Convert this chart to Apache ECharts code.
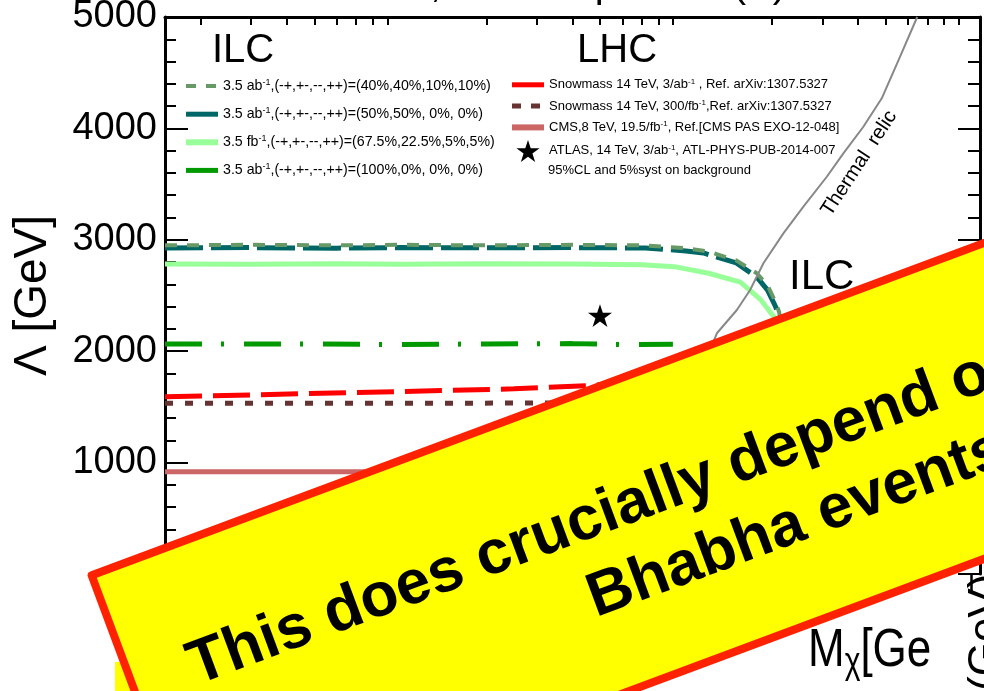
<!DOCTYPE html>
<html><head><meta charset="utf-8">
<script src="https://cdn.jsdelivr.net/npm/echarts@6/dist/echarts.min.js"></script>
<style>html,body{margin:0;padding:0;background:#fff}#c{width:984px;height:691px}</style>
</head><body><div id="c"></div>
<script>
const FONT = '"Liberation Sans", Arial, Helvetica, sans-serif';

// ---- axis ticks ----
const xMinorTicks = [2,3,4,5,6,7,8,9,20,30,40,50,60,70,80,90,200,300,400,500,600,700,800,900];
const xMajorTicks = [10,100,1000];
const xRange = [1.5, 1070];
const yRange = [0, 5000];
const yStep = 1000;

// ---- legend names ----
const ilcNames = [
  '3.5 ab^-1,(-+,+-,--,++)=(40%,40%,10%,10%)',
  '3.5 ab^-1,(-+,+-,--,++)=(50%,50%, 0%, 0%)',
  '3.5 fb^-1,(-+,+-,--,++)=(67.5%,22.5%,5%,5%)',
  '3.5 ab^-1,(-+,+-,--,++)=(100%,0%, 0%, 0%)'
];
const lhcNames = [
  'Snowmass 14 TeV, 3/ab^-1 , Ref. arXiv:1307.5327',
  'Snowmass 14 TeV, 300/fb^-1,Ref. arXiv:1307.5327',
  'CMS,8 TeV, 19.5/fb^-1, Ref.[CMS PAS EXO-12-048]',
  'ATLAS, 14 TeV, 3/ab^-1, ATL-PHYS-PUB-2014-007'
];
const noteText = '95%CL and 5%syst on background';

// ---- data: M_chi [GeV] and Lambda [GeV] ----
const m40 = [1.5, 3, 6, 10, 20, 40, 70, 100, 120, 150, 177, 193, 206, 212, 218];
const l40 = [2950, 2955, 2950, 2955, 2950, 2955, 2950, 2925, 2895, 2815, 2700, 2590, 2440, 2350, 2150];
const m50 = [1.5, 3, 6, 10, 20, 40, 72, 100, 115, 150, 177, 193, 206, 210, 216];
const l50 = [2926, 2930, 2925, 2930, 2928, 2930, 2926, 2900, 2882, 2792, 2666, 2549, 2399, 2343, 2150];
const m67 = [1.5, 3, 6, 10, 20, 40, 70, 91, 120, 155, 183, 203, 212];
const l67 = [2783, 2780, 2785, 2780, 2785, 2782, 2775, 2759, 2700, 2620, 2460, 2310, 2100];
const m100 = [1.5, 5, 10, 20, 40, 60, 90];
const l100 = [2065, 2065, 2060, 2065, 2068, 2060, 2062];
const mSnow3 = [1.5, 4.5, 10, 25, 46, 60];
const lSnow3 = [1590, 1618, 1638, 1662, 1692, 1710];
const mSnow300 = [1.5, 10, 30, 45];
const lSnow300 = [1532, 1532, 1535, 1535];
const mCMS = [1.5, 5, 10];
const lCMS = [918, 918, 918];
const mAtlas = [50];
const lAtlas = [2320];
const mRelic = [123.5, 128.3, 150.7, 167.7, 186.7, 219.3, 257.7, 311.2, 355.7, 417.9, 484.7, 561.8, 645];
const lRelic = [2056, 2161, 2370, 2549, 2789, 3058, 3297, 3566, 3776, 4015, 4270, 4644, 5000];

const pairs = (xs, ys) => xs.map((x, i) => [x, ys[i]]);
const STAR = 'path://M0,-10 L2.245,-3.09 L9.511,-3.09 L3.633,1.18 L5.878,8.09 L0,3.82 L-5.878,8.09 L-3.633,1.18 L-9.511,-3.09 L-2.245,-3.09 Z';

function lineSeries(name, xs, ys, color, width, dash, z) {
  return {
    type: 'line', name, data: pairs(xs, ys), symbol: 'none', showSymbol: false,
    lineStyle: { color, width, type: dash, cap: 'butt' }, itemStyle: { color },
    z, silent: true, animation: false
  };
}

const series = [
  lineSeries(lhcNames[2], mCMS, lCMS, '#cc6666', 5, 'solid', 2),
  lineSeries(lhcNames[1], mSnow300, lSnow300, '#663333', 5, [8, 12], 3),
  lineSeries(lhcNames[0], mSnow3, lSnow3, '#ff0000', 5, [37, 11], 4),
  lineSeries(ilcNames[3], m100, l100, '#009900', 5, [37, 19, 3, 20], 5),
  lineSeries(ilcNames[2], m67, l67, '#99ff99', 5, 'solid', 6),
  lineSeries(ilcNames[1], m50, l50, '#006666', 5, [38, 8], 7),
  lineSeries(ilcNames[0], m40, l40, '#669966', 4, [12, 10], 8),
  lineSeries('Thermal relic', mRelic, lRelic, '#888888', 2, 'solid', 9),
  {
    type: 'scatter', name: lhcNames[3], data: pairs(mAtlas, lAtlas), symbol: STAR,
    symbolSize: 24, symbolKeepAspect: true, itemStyle: { color: '#000', opacity: 1 }, z: 10, animation: false
  }
];

function richName(name) {
  return '{n|' + name.replace('^-1', '}{s|-1}{n|') + '}';
}

const legendText = (fs) => ({
  color: '#000', fontFamily: FONT, fontSize: fs,
  rich: {
    n: { fontFamily: FONT, fontSize: fs, color: '#000', lineHeight: fs + 2 },
    s: { fontFamily: FONT, fontSize: Math.round(fs * 0.65), color: '#000', verticalAlign: 'top', lineHeight: fs }
  }
});

const ilcLegendLines = [
  { type: [10, 10], width: 4 }, { type: 'solid', width: 5 }, { type: 'solid', width: 6 }, { type: 'solid', width: 5 }
];
const lhcLegendLines = [
  { type: 'solid', width: 5 }, { type: [9, 10], width: 5 }, { type: 'solid', width: 6 }, null
];

const option = {
  animation: false,
  backgroundColor: '#fff',
  grid: { left: 165, right: 4, top: 17, bottom: 117, containLabel: false, outerBoundsMode: 'none' },
  xAxis: [
    { type: 'log', min: xRange[0], max: xRange[1], position: 'bottom',
      axisLine: { show: false }, axisLabel: { show: false }, axisTick: { show: false }, splitLine: { show: false } },
    { type: 'log', min: xRange[0], max: xRange[1], position: 'top', gridIndex: 0,
      axisLine: { show: true, onZero: false, lineStyle: { color: '#000', width: 3 } },
      axisLabel: { show: false }, splitLine: { show: false },
      axisTick: { show: true, inside: true, length: 8, customValues: xMinorTicks, lineStyle: { color: '#000', width: 2 } } },
    { type: 'log', min: xRange[0], max: xRange[1], position: 'top', gridIndex: 0,
      axisLine: { show: false }, axisLabel: { show: false }, splitLine: { show: false },
      axisTick: { show: true, inside: true, length: 17, customValues: xMajorTicks, lineStyle: { color: '#000', width: 2.5 } } }
  ],
  yAxis: [
    { type: 'value', min: yRange[0], max: yRange[1], interval: yStep, position: 'left',
      name: 'Λ [GeV]', nameLocation: 'middle', nameRotate: 90, nameGap: 109,
      nameTextStyle: { fontFamily: FONT, fontSize: 46, color: '#000' },
      axisLine: { show: true, lineStyle: { color: '#000', width: 3 } },
      axisTick: { show: true, inside: true, length: 23, lineStyle: { color: '#000', width: 2 } },
      minorTick: { show: true, splitNumber: 5, length: 11, lineStyle: { color: '#000', width: 2 } },
      axisLabel: { show: true, fontFamily: FONT, fontSize: 38, color: '#000', margin: 8, formatter: (v) => String(v) },
      splitLine: { show: false }, minorSplitLine: { show: false } },
    { type: 'value', min: yRange[0], max: yRange[1], interval: yStep, position: 'right',
      axisLine: { show: true, lineStyle: { color: '#000', width: 3 } },
      axisTick: { show: true, inside: true, length: 22, lineStyle: { color: '#000', width: 2 } },
      minorTick: { show: true, splitNumber: 5, length: 12, lineStyle: { color: '#000', width: 2 } },
      axisLabel: { show: false }, splitLine: { show: false } }
  ],
  legend: [
    { left: 183, top: 78, padding: 0, orient: 'vertical', itemWidth: 32, itemHeight: 14, itemGap: 13,
      selectedMode: false, itemStyle: { opacity: 0 },
      data: ilcNames.map((n, i) => ({ name: n, lineStyle: ilcLegendLines[i] })),
      formatter: richName, textStyle: legendText(14.2) },
    { left: 509, top: 76, padding: 0, orient: 'vertical', itemWidth: 32, itemHeight: 22, itemGap: 3.7,
      selectedMode: false, itemStyle: { opacity: 0 },
      data: lhcNames.map((n, i) => i === 3 ? ({ name: n, itemStyle: { opacity: 1, color: '#000' } }) : ({ name: n, lineStyle: lhcLegendLines[i] })),
      formatter: richName, textStyle: legendText(13) }
  ],
  series,
  graphic: [
    { type: 'text', x: 786, y: -14, z: 50, style: { text: 'Dirac fermion, vector operator (V)', fontFamily: FONT, fontSize: 40, fill: '#000', align: 'right', verticalAlign: 'middle' } },
    { type: 'text', x: 212, y: 51, z: 50, style: { text: 'ILC', fontFamily: FONT, fontSize: 40, fill: '#000', align: 'left', verticalAlign: 'middle' } },
    { type: 'text', x: 577, y: 51, z: 50, style: { text: 'LHC', fontFamily: FONT, fontSize: 40, fill: '#000', align: 'left', verticalAlign: 'middle' } },
    { type: 'text', x: 548, y: 170, z: 50, style: { text: noteText, fontFamily: FONT, fontSize: 13, fill: '#000', align: 'left', verticalAlign: 'middle' } },
    { type: 'text', x: 789, y: 277, z: 50, style: { text: 'ILC', fontFamily: FONT, fontSize: 42, fill: '#000', align: 'left', verticalAlign: 'middle' } },
    { type: 'text', x: 826, y: 214, rotation: 0.99, z: 50, style: { text: 'Thermal  relic', fontFamily: FONT, fontSize: 20, fill: '#000', align: 'left', verticalAlign: 'middle' } },
    { type: 'text', x: 808, y: 651, z: 50, scaleY: 1.2, originX: 0, originY: 0, style: { text: '{a|M}{b|χ}{a|[Ge}', fill: '#000',
        rich: { a: { fontFamily: FONT, fontSize: 44, fill: '#000', lineHeight: 50 }, b: { fontFamily: FONT, fontSize: 30, fill: '#000', verticalAlign: 'bottom', lineHeight: 50 } },
        align: 'left', verticalAlign: 'middle' } },
    { type: 'text', x: 965, y: 691, rotation: Math.PI / 2, z: 50, style: { text: '(GeV)', fontFamily: FONT, fontSize: 44, fill: '#000', align: 'left', verticalAlign: 'top' } },
    { type: 'rect', z: 99, shape: { x: 115, y: 662, width: 500, height: 29 }, style: { fill: '#ffff00' } },
    { type: 'group', x: 86.5, y: 573, rotation: 0.3565, z: 100, children: [
      { type: 'rect', z: 100, shape: { x: 4, y: 4, width: 1400, height: 296 }, style: { fill: '#ffff00', stroke: '#ff2200', lineWidth: 8, lineJoin: 'round' } },
      { type: 'text', z: 101, x: 64, y: 148 - 0.35 * 62, style: { text: 'This does crucially depend on', fontFamily: FONT, fontWeight: 'bold', fontSize: 62, fill: '#000', align: 'left', verticalAlign: 'middle' } },
      { type: 'text', z: 101, x: 462, y: 224 - 0.35 * 62, style: { text: 'Bhabha events', fontFamily: FONT, fontWeight: 'bold', fontSize: 62, fill: '#000', align: 'left', verticalAlign: 'middle' } }
    ] }
  ]
};

const chart = echarts.init(document.getElementById('c'), null, { renderer: 'canvas' });
chart.setOption(option);
</script></body></html>
